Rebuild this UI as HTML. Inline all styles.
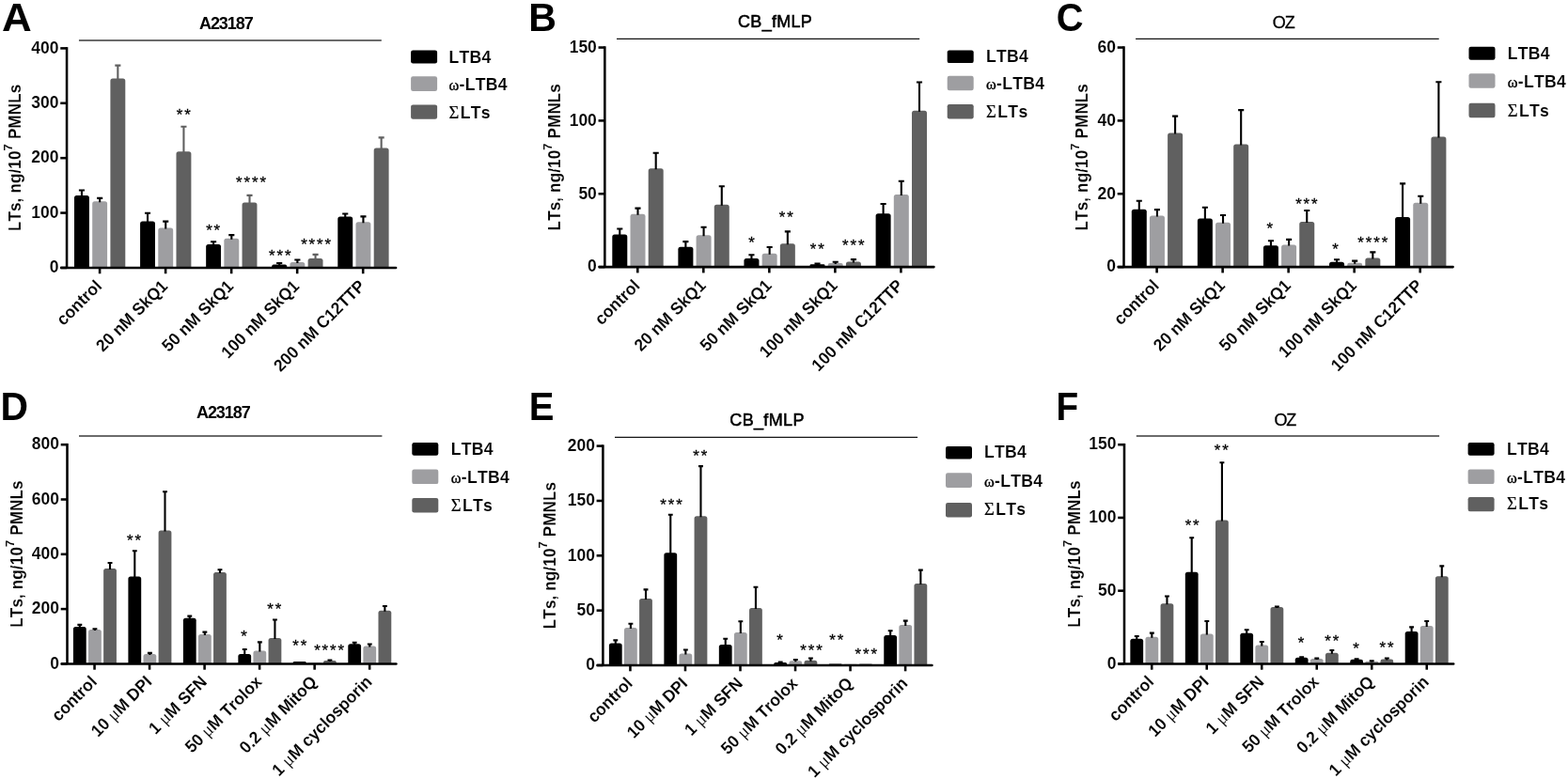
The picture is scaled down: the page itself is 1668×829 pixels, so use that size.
<!DOCTYPE html>
<html lang="en">
<head>
<meta charset="utf-8">
<title>Leukotriene synthesis figure</title>
<style>
html,body{margin:0;padding:0;background:#fff;}
body{width:1668px;height:829px;overflow:hidden;}
svg{display:block;}
svg text{font-family:"Liberation Sans",sans-serif;font-weight:bold;fill:#000;stroke:#fff;stroke-width:0.1px;font-kerning:none;}
svg text.n{font-weight:normal;stroke:none;}
svg text.s{stroke:#000;stroke-width:0.3px;}
svg text.L{stroke:none;}
svg text.t{stroke:#000;stroke-width:0.75px;}
svg .gb{font-family:"Liberation Serif",serif;font-weight:bold;}
svg .gn{font-family:"Liberation Serif",serif;font-weight:normal;stroke:#000;stroke-width:0.2px;}
svg .mu{font-family:"Liberation Serif",serif;font-weight:normal;}
</style>
</head>
<body>
<svg width="1668" height="829" viewBox="0 0 1668 829">
<rect width="1668" height="829" fill="#ffffff"/>
<g>
<text class="L" transform="translate(2.1 33) scale(1.02 1)" font-size="43.1">A</text>
<text class="L" transform="translate(212.05 31.2) scale(1 1.03)" font-size="18" textLength="57.6" lengthAdjust="spacing">A23187</text>
<line x1="83.95" y1="43" x2="405.8" y2="43" stroke="#3a3a3a" stroke-width="1.6"/>
<path d="M79 284.95 V210.4 Q79 207.9 81.5 207.9 H92.4 Q94.9 207.9 94.9 210.4 V284.95 Z" fill="#000000"/>
<path d="M86.95 208.9 V202.5 M83.9 202.5 H90" stroke="#000" stroke-width="2.1" fill="none"/>
<path d="M98.2 284.95 V216.8 Q98.2 214.3 100.7 214.3 H111.6 Q114.1 214.3 114.1 216.8 V284.95 Z" fill="#9e9ea1"/>
<path d="M106.15 215.3 V210.9 M103.1 210.9 H109.2" stroke="#000" stroke-width="2.1" fill="none"/>
<path d="M117.4 284.95 V86.1 Q117.4 83.6 119.9 83.6 H130.8 Q133.3 83.6 133.3 86.1 V284.95 Z" fill="#606060"/>
<path d="M125.35 84.6 V69.6 M122.3 69.6 H128.4" stroke="#606060" stroke-width="2.1" fill="none"/>
<path d="M149.08 284.95 V237.9 Q149.08 235.4 151.58 235.4 H162.48 Q164.98 235.4 164.98 237.9 V284.95 Z" fill="#000000"/>
<path d="M157.03 236.4 V226.7 M153.98 226.7 H160.08" stroke="#000" stroke-width="2.1" fill="none"/>
<path d="M168.28 284.95 V245 Q168.28 242.5 170.78 242.5 H181.68 Q184.18 242.5 184.18 245 V284.95 Z" fill="#9e9ea1"/>
<path d="M176.23 243.5 V235.6 M173.18 235.6 H179.28" stroke="#000" stroke-width="2.1" fill="none"/>
<path d="M187.48 284.95 V163.8 Q187.48 161.3 189.98 161.3 H200.88 Q203.38 161.3 203.38 163.8 V284.95 Z" fill="#606060"/>
<path d="M195.43 162.3 V134.7 M192.38 134.7 H198.48" stroke="#606060" stroke-width="2.1" fill="none"/>
<path d="M219.15 284.95 V262.4 Q219.15 259.9 221.65 259.9 H232.55 Q235.05 259.9 235.05 262.4 V284.95 Z" fill="#000000"/>
<path d="M227.1 260.9 V257.2 M224.05 257.2 H230.15" stroke="#000" stroke-width="2.1" fill="none"/>
<path d="M238.35 284.95 V256.2 Q238.35 253.7 240.85 253.7 H251.75 Q254.25 253.7 254.25 256.2 V284.95 Z" fill="#9e9ea1"/>
<path d="M246.3 254.7 V250.1 M243.25 250.1 H249.35" stroke="#000" stroke-width="2.1" fill="none"/>
<path d="M257.55 284.95 V218 Q257.55 215.5 260.05 215.5 H270.95 Q273.45 215.5 273.45 218 V284.95 Z" fill="#606060"/>
<path d="M265.5 216.5 V207.9 M262.45 207.9 H268.55" stroke="#606060" stroke-width="2.1" fill="none"/>
<path d="M289.23 284.95 V283.17 Q289.23 281.4 291 281.4 H303.35 Q305.12 281.4 305.12 283.17 V284.95 Z" fill="#000000"/>
<path d="M297.18 282.4 V280 M294.12 280 H300.23" stroke="#000" stroke-width="2.1" fill="none"/>
<path d="M308.43 284.95 V281.5 Q308.43 279 310.93 279 H321.82 Q324.32 279 324.32 281.5 V284.95 Z" fill="#9e9ea1"/>
<path d="M316.38 280 V276.5 M313.32 276.5 H319.43" stroke="#000" stroke-width="2.1" fill="none"/>
<path d="M327.62 284.95 V277.6 Q327.62 275.1 330.12 275.1 H341.02 Q343.52 275.1 343.52 277.6 V284.95 Z" fill="#606060"/>
<path d="M335.57 276.1 V270.9 M332.52 270.9 H338.62" stroke="#606060" stroke-width="2.1" fill="none"/>
<path d="M359.3 284.95 V232.9 Q359.3 230.4 361.8 230.4 H372.7 Q375.2 230.4 375.2 232.9 V284.95 Z" fill="#000000"/>
<path d="M367.25 231.4 V227.5 M364.2 227.5 H370.3" stroke="#000" stroke-width="2.1" fill="none"/>
<path d="M378.5 284.95 V238.8 Q378.5 236.3 381 236.3 H391.9 Q394.4 236.3 394.4 238.8 V284.95 Z" fill="#9e9ea1"/>
<path d="M386.45 237.3 V230.4 M383.4 230.4 H389.5" stroke="#000" stroke-width="2.1" fill="none"/>
<path d="M397.7 284.95 V159.9 Q397.7 157.4 400.2 157.4 H411.1 Q413.6 157.4 413.6 159.9 V284.95 Z" fill="#606060"/>
<path d="M405.65 158.4 V146.4 M402.6 146.4 H408.7" stroke="#606060" stroke-width="2.1" fill="none"/>
<path d="M71.05 50.12 V284.95" stroke="#000" stroke-width="2.55" fill="none"/>
<path d="M65.33 284.95 H421.12" stroke="#000" stroke-width="2.55" fill="none" stroke-linecap="round"/>
<line x1="64.25" y1="284.95" x2="71.05" y2="284.95" stroke="#000" stroke-width="2.55"/>
<text transform="translate(62.55 290.2) scale(1 1.04)" font-size="17.5" text-anchor="end">0</text>
<line x1="64.25" y1="226.56" x2="71.05" y2="226.56" stroke="#000" stroke-width="2.55"/>
<text transform="translate(62.55 231.81) scale(1 1.04)" font-size="17.5" text-anchor="end">100</text>
<line x1="64.25" y1="168.18" x2="71.05" y2="168.18" stroke="#000" stroke-width="2.55"/>
<text transform="translate(62.55 173.43) scale(1 1.04)" font-size="17.5" text-anchor="end">200</text>
<line x1="64.25" y1="109.79" x2="71.05" y2="109.79" stroke="#000" stroke-width="2.55"/>
<text transform="translate(62.55 115.04) scale(1 1.04)" font-size="17.5" text-anchor="end">300</text>
<line x1="64.25" y1="51.4" x2="71.05" y2="51.4" stroke="#000" stroke-width="2.55"/>
<text transform="translate(62.55 56.65) scale(1 1.04)" font-size="17.5" text-anchor="end">400</text>
<line x1="106.1" y1="284.95" x2="106.1" y2="291.25" stroke="#000" stroke-width="2.55"/>
<text transform="translate(109.3 305.55) rotate(-45) scale(1 1.04)" font-size="17.4" text-anchor="end">control</text>
<line x1="176.12" y1="284.95" x2="176.12" y2="291.25" stroke="#000" stroke-width="2.55"/>
<text transform="translate(179.32 305.55) rotate(-45) scale(1 1.04)" font-size="17.4" text-anchor="end">20 nM SkQ1</text>
<line x1="246.15" y1="284.95" x2="246.15" y2="291.25" stroke="#000" stroke-width="2.55"/>
<text transform="translate(249.34 305.55) rotate(-45) scale(1 1.04)" font-size="17.4" text-anchor="end">50 nM SkQ1</text>
<line x1="316.17" y1="284.95" x2="316.17" y2="291.25" stroke="#000" stroke-width="2.55"/>
<text transform="translate(319.37 305.55) rotate(-45) scale(1 1.04)" font-size="17.4" text-anchor="end">100 nM SkQ1</text>
<line x1="386.19" y1="284.95" x2="386.19" y2="291.25" stroke="#000" stroke-width="2.55"/>
<text transform="translate(389.39 305.55) rotate(-45) scale(1 1.04)" font-size="17.4" text-anchor="end">200 nM C12TTP</text>
<text transform="translate(22.3 167.9) rotate(-90) scale(1 1.04)" font-size="17" text-anchor="middle" letter-spacing="0.17">LTs, ng/10<tspan font-size="13" dy="-8.6">7</tspan><tspan dy="8.6"> PMNLs</tspan></text>
<text class="n s" x="187.83" y="127.86" font-size="16.8" letter-spacing="1.95">**</text>
<text class="n s" x="219.13" y="250.66" font-size="16.8" letter-spacing="1.95">**</text>
<text class="n s" x="251.03" y="200.46" font-size="16.8" letter-spacing="1.95">****</text>
<text class="n s" x="285.93" y="277.66" font-size="16.8" letter-spacing="1.95">***</text>
<text class="n s" x="320.13" y="265.86" font-size="16.8" letter-spacing="1.95">****</text>
<rect x="437.1" y="53.6" width="28" height="13.9" rx="2.2" fill="#000000"/>
<text transform="translate(477.4 66.7) scale(1 1.04)" font-size="17.6" letter-spacing="0.3">LTB4</text>
<rect x="437.1" y="81.3" width="28" height="15.6" rx="2.2" fill="#9e9ea1"/>
<text transform="translate(477.4 96) scale(1 1.04)" font-size="17.6" letter-spacing="0.3"><tspan class="gn" style="stroke-width:0.4px" font-size="16.4">ω</tspan><tspan dx="0">-LTB4</tspan></text>
<rect x="437.1" y="111.4" width="28" height="15.3" rx="2.2" fill="#606060"/>
<text transform="translate(477.4 125.8) scale(1 1.04)" font-size="17.6" letter-spacing="0.3"><tspan class="gn" font-size="18.6">Σ</tspan><tspan dx="1.2">LTs</tspan></text>
</g>
<g>
<text class="L" transform="translate(562.35 33.1) scale(0.95 1)" font-size="43.3">B</text>
<text class="n" style="stroke:#000;stroke-width:0.55px" transform="translate(785.05 29.1) scale(1 1.03)" font-size="18" textLength="78.8" lengthAdjust="spacing">CB_fMLP</text>
<line x1="656" y1="41.4" x2="978.2" y2="41.4" stroke="#141414" stroke-width="1.25"/>
<path d="M651.3 284.1 V252 Q651.3 249.5 653.8 249.5 H664.8 Q667.3 249.5 667.3 252 V284.1 Z" fill="#000000"/>
<path d="M659.3 250.5 V243.5 M656.25 243.5 H662.35" stroke="#000" stroke-width="2.1" fill="none"/>
<path d="M670.5 284.1 V230.3 Q670.5 227.8 673 227.8 H684 Q686.5 227.8 686.5 230.3 V284.1 Z" fill="#9e9ea1"/>
<path d="M678.5 228.8 V221.6 M675.45 221.6 H681.55" stroke="#000" stroke-width="2.1" fill="none"/>
<path d="M689.7 284.1 V181.7 Q689.7 179.2 692.2 179.2 H703.2 Q705.7 179.2 705.7 181.7 V284.1 Z" fill="#606060"/>
<path d="M697.7 180.2 V162.8 M694.65 162.8 H700.75" stroke="#000" stroke-width="2.1" fill="none"/>
<path d="M721.38 284.1 V265.3 Q721.38 262.8 723.88 262.8 H734.88 Q737.38 262.8 737.38 265.3 V284.1 Z" fill="#000000"/>
<path d="M729.38 263.8 V257.1 M726.33 257.1 H732.42" stroke="#000" stroke-width="2.1" fill="none"/>
<path d="M740.58 284.1 V252.8 Q740.58 250.3 743.08 250.3 H754.08 Q756.58 250.3 756.58 252.8 V284.1 Z" fill="#9e9ea1"/>
<path d="M748.58 251.3 V241.7 M745.53 241.7 H751.62" stroke="#000" stroke-width="2.1" fill="none"/>
<path d="M759.78 284.1 V220.2 Q759.78 217.7 762.28 217.7 H773.28 Q775.78 217.7 775.78 220.2 V284.1 Z" fill="#606060"/>
<path d="M767.78 218.7 V198.3 M764.73 198.3 H770.83" stroke="#000" stroke-width="2.1" fill="none"/>
<path d="M791.45 284.1 V277.6 Q791.45 275.1 793.95 275.1 H804.95 Q807.45 275.1 807.45 277.6 V284.1 Z" fill="#000000"/>
<path d="M799.45 276.1 V271.3 M796.4 271.3 H802.5" stroke="#000" stroke-width="2.1" fill="none"/>
<path d="M810.65 284.1 V272.2 Q810.65 269.7 813.15 269.7 H824.15 Q826.65 269.7 826.65 272.2 V284.1 Z" fill="#9e9ea1"/>
<path d="M818.65 270.7 V263 M815.6 263 H821.7" stroke="#000" stroke-width="2.1" fill="none"/>
<path d="M829.85 284.1 V261.8 Q829.85 259.3 832.35 259.3 H843.35 Q845.85 259.3 845.85 261.8 V284.1 Z" fill="#606060"/>
<path d="M837.85 260.3 V246.4 M834.8 246.4 H840.9" stroke="#000" stroke-width="2.1" fill="none"/>
<path d="M861.52 284.1 V282.7 Q861.52 281.3 862.92 281.3 H876.12 Q877.52 281.3 877.52 282.7 V284.1 Z" fill="#000000"/>
<path d="M869.52 282.3 V280.6 M866.48 280.6 H872.57" stroke="#000" stroke-width="2.1" fill="none"/>
<path d="M880.73 284.1 V282.1 Q880.73 280.1 882.73 280.1 H894.73 Q896.73 280.1 896.73 282.1 V284.1 Z" fill="#9e9ea1"/>
<path d="M888.73 281.1 V278.8 M885.68 278.8 H891.77" stroke="#000" stroke-width="2.1" fill="none"/>
<path d="M899.93 284.1 V280.9 Q899.93 278.4 902.43 278.4 H913.43 Q915.93 278.4 915.93 280.9 V284.1 Z" fill="#606060"/>
<path d="M907.93 279.4 V276.1 M904.88 276.1 H910.98" stroke="#000" stroke-width="2.1" fill="none"/>
<path d="M931.6 284.1 V229.8 Q931.6 227.3 934.1 227.3 H945.1 Q947.6 227.3 947.6 229.8 V284.1 Z" fill="#000000"/>
<path d="M939.6 228.3 V217 M936.55 217 H942.65" stroke="#000" stroke-width="2.1" fill="none"/>
<path d="M950.8 284.1 V209.6 Q950.8 207.1 953.3 207.1 H964.3 Q966.8 207.1 966.8 209.6 V284.1 Z" fill="#9e9ea1"/>
<path d="M958.8 208.1 V192.7 M955.75 192.7 H961.85" stroke="#000" stroke-width="2.1" fill="none"/>
<path d="M970 284.1 V120.2 Q970 117.7 972.5 117.7 H983.5 Q986 117.7 986 120.2 V284.1 Z" fill="#606060"/>
<path d="M978 118.7 V87.5 M974.95 87.5 H981.05" stroke="#000" stroke-width="2.1" fill="none"/>
<path d="M643.35 49.27 V284.1" stroke="#000" stroke-width="2.55" fill="none"/>
<path d="M637.62 284.1 H993.43" stroke="#000" stroke-width="2.55" fill="none" stroke-linecap="round"/>
<line x1="636.55" y1="284.1" x2="643.35" y2="284.1" stroke="#000" stroke-width="2.55"/>
<text transform="translate(634.85 289.35) scale(1 1.04)" font-size="17.5" text-anchor="end">0</text>
<line x1="636.55" y1="206.25" x2="643.35" y2="206.25" stroke="#000" stroke-width="2.55"/>
<text transform="translate(634.85 211.5) scale(1 1.04)" font-size="17.5" text-anchor="end">50</text>
<line x1="636.55" y1="128.4" x2="643.35" y2="128.4" stroke="#000" stroke-width="2.55"/>
<text transform="translate(634.85 133.65) scale(1 1.04)" font-size="17.5" text-anchor="end">100</text>
<line x1="636.55" y1="50.55" x2="643.35" y2="50.55" stroke="#000" stroke-width="2.55"/>
<text transform="translate(634.85 55.8) scale(1 1.04)" font-size="17.5" text-anchor="end">150</text>
<line x1="678.3" y1="284.1" x2="678.3" y2="290.4" stroke="#000" stroke-width="2.55"/>
<text transform="translate(681.7 305) rotate(-45) scale(1 1.04)" font-size="17.4" text-anchor="end">control</text>
<line x1="748.32" y1="284.1" x2="748.32" y2="290.4" stroke="#000" stroke-width="2.55"/>
<text transform="translate(751.72 305) rotate(-45) scale(1 1.04)" font-size="17.4" text-anchor="end">20 nM SkQ1</text>
<line x1="818.35" y1="284.1" x2="818.35" y2="290.4" stroke="#000" stroke-width="2.55"/>
<text transform="translate(821.75 305) rotate(-45) scale(1 1.04)" font-size="17.4" text-anchor="end">50 nM SkQ1</text>
<line x1="888.38" y1="284.1" x2="888.38" y2="290.4" stroke="#000" stroke-width="2.55"/>
<text transform="translate(891.77 305) rotate(-45) scale(1 1.04)" font-size="17.4" text-anchor="end">100 nM SkQ1</text>
<line x1="958.4" y1="284.1" x2="958.4" y2="290.4" stroke="#000" stroke-width="2.55"/>
<text transform="translate(961.8 305) rotate(-45) scale(1 1.04)" font-size="17.4" text-anchor="end">100 nM C12TTP</text>
<text transform="translate(595.5 167.2) rotate(-90) scale(1 1.04)" font-size="17" text-anchor="middle" letter-spacing="0.17">LTs, ng/10<tspan font-size="13" dy="-8.6">7</tspan><tspan dy="8.6"> PMNLs</tspan></text>
<text class="n s" x="796.23" y="264.26" font-size="16.8" letter-spacing="1.95">*</text>
<text class="n s" x="828.83" y="237.16" font-size="16.8" letter-spacing="1.95">**</text>
<text class="n s" x="861.73" y="270.76" font-size="16.8" letter-spacing="1.95">**</text>
<text class="n s" x="896.03" y="266.86" font-size="16.8" letter-spacing="1.95">***</text>
<rect x="1007.7" y="53.4" width="28" height="13.7" rx="2.2" fill="#000000"/>
<text transform="translate(1049 65.9) scale(1 1.04)" font-size="17.6" letter-spacing="0.3">LTB4</text>
<rect x="1007.7" y="80.7" width="28" height="15.6" rx="2.2" fill="#9e9ea1"/>
<text transform="translate(1049 95.1) scale(1 1.04)" font-size="17.6" letter-spacing="0.3"><tspan class="gn" style="stroke-width:0.4px" font-size="16.4">ω</tspan><tspan dx="0">-LTB4</tspan></text>
<rect x="1007.7" y="111" width="28" height="15.4" rx="2.2" fill="#606060"/>
<text transform="translate(1049 125) scale(1 1.04)" font-size="17.6" letter-spacing="0.3"><tspan class="gn" font-size="18.6">Σ</tspan><tspan dx="1.2">LTs</tspan></text>
</g>
<g>
<text class="L" transform="translate(1123.75 33.2) scale(0.93 1)" font-size="42.9">C</text>
<text class="n" style="stroke:#000;stroke-width:0.3px" transform="translate(1353.85 29.9) scale(1 1.03)" font-size="18" textLength="23.8" lengthAdjust="spacing">OZ</text>
<line x1="1208.1" y1="41.4" x2="1530.7" y2="41.4" stroke="#141414" stroke-width="1.25"/>
<path d="M1203.8 284.1 V225.3 Q1203.8 222.8 1206.3 222.8 H1217.3 Q1219.8 222.8 1219.8 225.3 V284.1 Z" fill="#000000"/>
<path d="M1211.8 223.8 V213.8 M1208.75 213.8 H1214.85" stroke="#000" stroke-width="2.1" fill="none"/>
<path d="M1222.95 284.1 V232 Q1222.95 229.5 1225.45 229.5 H1236.45 Q1238.95 229.5 1238.95 232 V284.1 Z" fill="#9e9ea1"/>
<path d="M1230.95 230.5 V223.1 M1227.9 223.1 H1234" stroke="#000" stroke-width="2.1" fill="none"/>
<path d="M1242.1 284.1 V143.9 Q1242.1 141.4 1244.6 141.4 H1255.6 Q1258.1 141.4 1258.1 143.9 V284.1 Z" fill="#606060"/>
<path d="M1250.1 142.4 V123.6 M1247.05 123.6 H1253.15" stroke="#000" stroke-width="2.1" fill="none"/>
<path d="M1273.88 284.1 V234.9 Q1273.88 232.4 1276.38 232.4 H1287.38 Q1289.88 232.4 1289.88 234.9 V284.1 Z" fill="#000000"/>
<path d="M1281.88 233.4 V220.7 M1278.83 220.7 H1284.92" stroke="#000" stroke-width="2.1" fill="none"/>
<path d="M1293.03 284.1 V239.3 Q1293.03 236.8 1295.53 236.8 H1306.53 Q1309.03 236.8 1309.03 239.3 V284.1 Z" fill="#9e9ea1"/>
<path d="M1301.03 237.8 V229 M1297.98 229 H1304.08" stroke="#000" stroke-width="2.1" fill="none"/>
<path d="M1312.18 284.1 V156 Q1312.18 153.5 1314.68 153.5 H1325.68 Q1328.18 153.5 1328.18 156 V284.1 Z" fill="#606060"/>
<path d="M1320.18 154.5 V117.1 M1317.13 117.1 H1323.23" stroke="#000" stroke-width="2.1" fill="none"/>
<path d="M1343.95 284.1 V263.8 Q1343.95 261.3 1346.45 261.3 H1357.45 Q1359.95 261.3 1359.95 263.8 V284.1 Z" fill="#000000"/>
<path d="M1351.95 262.3 V256.2 M1348.9 256.2 H1355" stroke="#000" stroke-width="2.1" fill="none"/>
<path d="M1363.1 284.1 V262.9 Q1363.1 260.4 1365.6 260.4 H1376.6 Q1379.1 260.4 1379.1 262.9 V284.1 Z" fill="#9e9ea1"/>
<path d="M1371.1 261.4 V254.9 M1368.05 254.9 H1374.15" stroke="#000" stroke-width="2.1" fill="none"/>
<path d="M1382.25 284.1 V238.5 Q1382.25 236 1384.75 236 H1395.75 Q1398.25 236 1398.25 238.5 V284.1 Z" fill="#606060"/>
<path d="M1390.25 237 V224 M1387.2 224 H1393.3" stroke="#000" stroke-width="2.1" fill="none"/>
<path d="M1414.03 284.1 V281.3 Q1414.03 278.8 1416.53 278.8 H1427.53 Q1430.03 278.8 1430.03 281.3 V284.1 Z" fill="#000000"/>
<path d="M1422.03 279.8 V276.2 M1418.98 276.2 H1425.08" stroke="#000" stroke-width="2.1" fill="none"/>
<path d="M1433.18 284.1 V281.95 Q1433.18 279.8 1435.33 279.8 H1447.03 Q1449.18 279.8 1449.18 281.95 V284.1 Z" fill="#9e9ea1"/>
<path d="M1441.18 280.8 V277.6 M1438.13 277.6 H1444.23" stroke="#000" stroke-width="2.1" fill="none"/>
<path d="M1452.33 284.1 V277.1 Q1452.33 274.6 1454.83 274.6 H1465.83 Q1468.33 274.6 1468.33 277.1 V284.1 Z" fill="#606060"/>
<path d="M1460.33 275.6 V268.4 M1457.28 268.4 H1463.38" stroke="#000" stroke-width="2.1" fill="none"/>
<path d="M1484.1 284.1 V233.4 Q1484.1 230.9 1486.6 230.9 H1497.6 Q1500.1 230.9 1500.1 233.4 V284.1 Z" fill="#000000"/>
<path d="M1492.1 231.9 V195.4 M1489.05 195.4 H1495.15" stroke="#000" stroke-width="2.1" fill="none"/>
<path d="M1503.25 284.1 V218.2 Q1503.25 215.7 1505.75 215.7 H1516.75 Q1519.25 215.7 1519.25 218.2 V284.1 Z" fill="#9e9ea1"/>
<path d="M1511.25 216.7 V208.8 M1508.2 208.8 H1514.3" stroke="#000" stroke-width="2.1" fill="none"/>
<path d="M1522.4 284.1 V147.9 Q1522.4 145.4 1524.9 145.4 H1535.9 Q1538.4 145.4 1538.4 147.9 V284.1 Z" fill="#606060"/>
<path d="M1530.4 146.4 V87.3 M1527.35 87.3 H1533.45" stroke="#000" stroke-width="2.1" fill="none"/>
<path d="M1195.5 49.27 V284.1" stroke="#000" stroke-width="2.55" fill="none"/>
<path d="M1189.78 284.1 H1545.62" stroke="#000" stroke-width="2.55" fill="none" stroke-linecap="round"/>
<line x1="1188.7" y1="284.1" x2="1195.5" y2="284.1" stroke="#000" stroke-width="2.55"/>
<text transform="translate(1187 289.35) scale(1 1.04)" font-size="17.5" text-anchor="end">0</text>
<line x1="1188.7" y1="206.25" x2="1195.5" y2="206.25" stroke="#000" stroke-width="2.55"/>
<text transform="translate(1187 211.5) scale(1 1.04)" font-size="17.5" text-anchor="end">20</text>
<line x1="1188.7" y1="128.4" x2="1195.5" y2="128.4" stroke="#000" stroke-width="2.55"/>
<text transform="translate(1187 133.65) scale(1 1.04)" font-size="17.5" text-anchor="end">40</text>
<line x1="1188.7" y1="50.55" x2="1195.5" y2="50.55" stroke="#000" stroke-width="2.55"/>
<text transform="translate(1187 55.8) scale(1 1.04)" font-size="17.5" text-anchor="end">60</text>
<line x1="1230.6" y1="284.1" x2="1230.6" y2="290.4" stroke="#000" stroke-width="2.55"/>
<text transform="translate(1234 305) rotate(-45) scale(1 1.04)" font-size="17.4" text-anchor="end">control</text>
<line x1="1300.62" y1="284.1" x2="1300.62" y2="290.4" stroke="#000" stroke-width="2.55"/>
<text transform="translate(1304.03 305) rotate(-45) scale(1 1.04)" font-size="17.4" text-anchor="end">20 nM SkQ1</text>
<line x1="1370.65" y1="284.1" x2="1370.65" y2="290.4" stroke="#000" stroke-width="2.55"/>
<text transform="translate(1374.05 305) rotate(-45) scale(1 1.04)" font-size="17.4" text-anchor="end">50 nM SkQ1</text>
<line x1="1440.67" y1="284.1" x2="1440.67" y2="290.4" stroke="#000" stroke-width="2.55"/>
<text transform="translate(1444.08 305) rotate(-45) scale(1 1.04)" font-size="17.4" text-anchor="end">100 nM SkQ1</text>
<line x1="1510.7" y1="284.1" x2="1510.7" y2="290.4" stroke="#000" stroke-width="2.55"/>
<text transform="translate(1514.1 305) rotate(-45) scale(1 1.04)" font-size="17.4" text-anchor="end">100 nM C12TTP</text>
<text transform="translate(1157.3 167.2) rotate(-90) scale(1 1.04)" font-size="17" text-anchor="middle" letter-spacing="0.17">LTs, ng/10<tspan font-size="13" dy="-8.6">7</tspan><tspan dy="8.6"> PMNLs</tspan></text>
<text class="n s" x="1347.43" y="249.16" font-size="16.8" letter-spacing="1.95">*</text>
<text class="n s" x="1378.13" y="222.76" font-size="16.8" letter-spacing="1.95">***</text>
<text class="n s" x="1417.33" y="271.46" font-size="16.8" letter-spacing="1.95">*</text>
<text class="n s" x="1444.33" y="263.86" font-size="16.8" letter-spacing="1.95">****</text>
<rect x="1562.5" y="49.8" width="28" height="13.9" rx="2.2" fill="#000000"/>
<text transform="translate(1603.7 62.5) scale(1 1.04)" font-size="17.6" letter-spacing="0.3">LTB4</text>
<rect x="1562.5" y="78.2" width="28" height="15.6" rx="2.2" fill="#9e9ea1"/>
<text transform="translate(1603.7 92.6) scale(1 1.04)" font-size="17.6" letter-spacing="0.3"><tspan class="gn" style="stroke-width:0.4px" font-size="16.4">ω</tspan><tspan dx="0">-LTB4</tspan></text>
<rect x="1562.5" y="109.8" width="28" height="15.5" rx="2.2" fill="#606060"/>
<text transform="translate(1603.7 124.2) scale(1 1.04)" font-size="17.6" letter-spacing="0.3"><tspan class="gn" font-size="18.6">Σ</tspan><tspan dx="1.2">LTs</tspan></text>
</g>
<g>
<text class="L" transform="translate(0.5 447) scale(0.96 1)" font-size="42.6">D</text>
<text class="L" transform="translate(209 444.9) scale(1 1.03)" font-size="18" textLength="57.7" lengthAdjust="spacing">A23187</text>
<line x1="84" y1="464" x2="406.4" y2="464" stroke="#3a3a3a" stroke-width="1.6"/>
<path d="M77.93 706.4 V669.5 Q77.93 667 80.43 667 H89.23 Q91.73 667 91.73 669.5 V706.4 Z" fill="#000000"/>
<path d="M84.83 668 V664.9 M82.38 664.9 H87.28" stroke="#000" stroke-width="2.1" fill="none"/>
<path d="M94.03 706.4 V672.6 Q94.03 670.1 96.53 670.1 H105.33 Q107.83 670.1 107.83 672.6 V706.4 Z" fill="#9e9ea1"/>
<path d="M100.93 671.1 V669.3 M98.48 669.3 H103.38" stroke="#000" stroke-width="2.1" fill="none"/>
<path d="M110.13 706.4 V607.5 Q110.13 605 112.63 605 H121.43 Q123.93 605 123.93 607.5 V706.4 Z" fill="#606060"/>
<path d="M117.03 606 V599 M114.58 599 H119.48" stroke="#000" stroke-width="2.1" fill="none"/>
<path d="M136.4 706.4 V616 Q136.4 613.5 138.9 613.5 H147.7 Q150.2 613.5 150.2 616 V706.4 Z" fill="#000000"/>
<path d="M143.3 614.5 V586.3 M140.85 586.3 H145.75" stroke="#000" stroke-width="2.1" fill="none"/>
<path d="M152.5 706.4 V698.4 Q152.5 695.9 155 695.9 H163.8 Q166.3 695.9 166.3 698.4 V706.4 Z" fill="#9e9ea1"/>
<path d="M159.4 696.9 V694.9 M156.95 694.9 H161.85" stroke="#000" stroke-width="2.1" fill="none"/>
<path d="M168.6 706.4 V567 Q168.6 564.5 171.1 564.5 H179.9 Q182.4 564.5 182.4 567 V706.4 Z" fill="#606060"/>
<path d="M175.5 565.5 V523.2 M173.05 523.2 H177.95" stroke="#000" stroke-width="2.1" fill="none"/>
<path d="M194.87 706.4 V660.2 Q194.87 657.7 197.37 657.7 H206.17 Q208.67 657.7 208.67 660.2 V706.4 Z" fill="#000000"/>
<path d="M201.77 658.7 V655.6 M199.32 655.6 H204.22" stroke="#000" stroke-width="2.1" fill="none"/>
<path d="M210.97 706.4 V677.6 Q210.97 675.1 213.47 675.1 H222.27 Q224.77 675.1 224.77 677.6 V706.4 Z" fill="#9e9ea1"/>
<path d="M217.87 676.1 V672.6 M215.42 672.6 H220.32" stroke="#000" stroke-width="2.1" fill="none"/>
<path d="M227.07 706.4 V611.4 Q227.07 608.9 229.57 608.9 H238.37 Q240.87 608.9 240.87 611.4 V706.4 Z" fill="#606060"/>
<path d="M233.97 609.9 V606.2 M231.52 606.2 H236.42" stroke="#000" stroke-width="2.1" fill="none"/>
<path d="M253.34 706.4 V698.4 Q253.34 695.9 255.84 695.9 H264.64 Q267.14 695.9 267.14 698.4 V706.4 Z" fill="#000000"/>
<path d="M260.24 696.9 V691 M257.79 691 H262.69" stroke="#000" stroke-width="2.1" fill="none"/>
<path d="M269.44 706.4 V695 Q269.44 692.5 271.94 692.5 H280.74 Q283.24 692.5 283.24 695 V706.4 Z" fill="#9e9ea1"/>
<path d="M276.34 693.5 V683.4 M273.89 683.4 H278.79" stroke="#000" stroke-width="2.1" fill="none"/>
<path d="M285.54 706.4 V681.5 Q285.54 679 288.04 679 H296.84 Q299.34 679 299.34 681.5 V706.4 Z" fill="#606060"/>
<path d="M292.44 680 V659.5 M289.99 659.5 H294.89" stroke="#000" stroke-width="2.1" fill="none"/>
<path d="M311.81 706.4 V705.25 Q311.81 704.1 312.96 704.1 H324.46 Q325.61 704.1 325.61 705.25 V706.4 Z" fill="#000000"/>
<path d="M327.91 706.4 V705.8 Q327.91 705.2 328.51 705.2 H341.11 Q341.71 705.2 341.71 705.8 V706.4 Z" fill="#9e9ea1"/>
<path d="M344.01 706.4 V704.65 Q344.01 702.9 345.76 702.9 H356.06 Q357.81 702.9 357.81 704.65 V706.4 Z" fill="#606060"/>
<path d="M350.91 703.9 V702.5 M348.46 702.5 H353.36" stroke="#000" stroke-width="2.1" fill="none"/>
<path d="M370.28 706.4 V687.8 Q370.28 685.3 372.78 685.3 H381.58 Q384.08 685.3 384.08 687.8 V706.4 Z" fill="#000000"/>
<path d="M377.18 686.3 V683.8 M374.73 683.8 H379.63" stroke="#000" stroke-width="2.1" fill="none"/>
<path d="M386.38 706.4 V690 Q386.38 687.5 388.88 687.5 H397.68 Q400.18 687.5 400.18 690 V706.4 Z" fill="#9e9ea1"/>
<path d="M393.28 688.5 V685.5 M390.83 685.5 H395.73" stroke="#000" stroke-width="2.1" fill="none"/>
<path d="M402.48 706.4 V652.3 Q402.48 649.8 404.98 649.8 H413.78 Q416.28 649.8 416.28 652.3 V706.4 Z" fill="#606060"/>
<path d="M409.38 650.8 V645 M406.93 645 H411.83" stroke="#000" stroke-width="2.1" fill="none"/>
<path d="M71.5 471.93 V706.4" stroke="#000" stroke-width="2.55" fill="none"/>
<path d="M65.78 706.4 H421.43" stroke="#000" stroke-width="2.55" fill="none" stroke-linecap="round"/>
<line x1="64.7" y1="706.4" x2="71.5" y2="706.4" stroke="#000" stroke-width="2.55"/>
<text transform="translate(63 711.65) scale(1 1.04)" font-size="17.5" text-anchor="end">0</text>
<line x1="64.7" y1="648.1" x2="71.5" y2="648.1" stroke="#000" stroke-width="2.55"/>
<text transform="translate(63 653.35) scale(1 1.04)" font-size="17.5" text-anchor="end">200</text>
<line x1="64.7" y1="589.8" x2="71.5" y2="589.8" stroke="#000" stroke-width="2.55"/>
<text transform="translate(63 595.05) scale(1 1.04)" font-size="17.5" text-anchor="end">400</text>
<line x1="64.7" y1="531.5" x2="71.5" y2="531.5" stroke="#000" stroke-width="2.55"/>
<text transform="translate(63 536.75) scale(1 1.04)" font-size="17.5" text-anchor="end">600</text>
<line x1="64.7" y1="473.2" x2="71.5" y2="473.2" stroke="#000" stroke-width="2.55"/>
<text transform="translate(63 478.45) scale(1 1.04)" font-size="17.5" text-anchor="end">800</text>
<line x1="100.55" y1="706.4" x2="100.55" y2="712.7" stroke="#000" stroke-width="2.55"/>
<text transform="translate(104.05 726.7) rotate(-45) scale(1 1.04)" font-size="17.4" text-anchor="end">control</text>
<line x1="159.08" y1="706.4" x2="159.08" y2="712.7" stroke="#000" stroke-width="2.55"/>
<text transform="translate(162.58 726.7) rotate(-45) scale(1 1.04)" font-size="17.4" text-anchor="end">10 <tspan class="mu" font-size="18.5">μ</tspan>M DPI</text>
<line x1="217.6" y1="706.4" x2="217.6" y2="712.7" stroke="#000" stroke-width="2.55"/>
<text transform="translate(221.1 726.7) rotate(-45) scale(1 1.04)" font-size="17.4" text-anchor="end">1 <tspan class="mu" font-size="18.5">μ</tspan>M SFN</text>
<line x1="276.13" y1="706.4" x2="276.13" y2="712.7" stroke="#000" stroke-width="2.55"/>
<text transform="translate(279.63 726.7) rotate(-45) scale(1 1.04)" font-size="17.4" text-anchor="end">50 <tspan class="mu" font-size="18.5">μ</tspan>M Trolox</text>
<line x1="334.65" y1="706.4" x2="334.65" y2="712.7" stroke="#000" stroke-width="2.55"/>
<text transform="translate(338.15 726.7) rotate(-45) scale(1 1.04)" font-size="17.4" text-anchor="end">0.2 <tspan class="mu" font-size="18.5">μ</tspan>M MitoQ</text>
<line x1="393.18" y1="706.4" x2="393.18" y2="712.7" stroke="#000" stroke-width="2.55"/>
<text transform="translate(396.68 726.7) rotate(-45) scale(1 1.04)" font-size="17.4" text-anchor="end">1 <tspan class="mu" font-size="18.5">μ</tspan>M cyclosporin</text>
<text transform="translate(23.6 589.5) rotate(-90) scale(1 1.04)" font-size="17" text-anchor="middle" letter-spacing="0.17">LTs, ng/10<tspan font-size="13" dy="-8.6">7</tspan><tspan dy="8.6"> PMNLs</tspan></text>
<text class="n s" x="134.93" y="581.36" font-size="16.8" letter-spacing="1.95">**</text>
<text class="n s" x="256.33" y="682.96" font-size="16.8" letter-spacing="1.95">*</text>
<text class="n s" x="284.33" y="654.16" font-size="16.8" letter-spacing="1.95">**</text>
<text class="n s" x="311.33" y="692.96" font-size="16.8" letter-spacing="1.95">**</text>
<text class="n s" x="334.13" y="697.86" font-size="16.8" letter-spacing="1.95">****</text>
<rect x="438.3" y="471.1" width="28" height="13.6" rx="2.2" fill="#000000"/>
<text transform="translate(479.7 483.8) scale(1 1.04)" font-size="17.6" letter-spacing="0.3">LTB4</text>
<rect x="438.3" y="499.5" width="28" height="15.6" rx="2.2" fill="#9e9ea1"/>
<text transform="translate(479.7 513.5) scale(1 1.04)" font-size="17.6" letter-spacing="0.3"><tspan class="gn" style="stroke-width:0.4px" font-size="16.4">ω</tspan><tspan dx="0">-LTB4</tspan></text>
<rect x="438.3" y="529.9" width="28" height="15.6" rx="2.2" fill="#606060"/>
<text transform="translate(479.7 543.8) scale(1 1.04)" font-size="17.6" letter-spacing="0.3"><tspan class="gn" font-size="18.6">Σ</tspan><tspan dx="1.2">LTs</tspan></text>
</g>
<g>
<text class="L" transform="translate(562.65 447) scale(0.94 1)" font-size="42.6">E</text>
<text class="n" style="stroke:#000;stroke-width:0.55px" transform="translate(776.3 452.9) scale(1 1.03)" font-size="18" textLength="79.1" lengthAdjust="spacing">CB_fMLP</text>
<line x1="654" y1="465.4" x2="976.1" y2="465.4" stroke="#141414" stroke-width="1.25"/>
<path d="M647.9 708 V686.9 Q647.9 684.4 650.4 684.4 H659.2 Q661.7 684.4 661.7 686.9 V708 Z" fill="#000000"/>
<path d="M654.8 685.4 V681.4 M652.35 681.4 H657.25" stroke="#000" stroke-width="2.1" fill="none"/>
<path d="M664 708 V670.6 Q664 668.1 666.5 668.1 H675.3 Q677.8 668.1 677.8 670.6 V708 Z" fill="#9e9ea1"/>
<path d="M670.9 669.1 V663.7 M668.45 663.7 H673.35" stroke="#000" stroke-width="2.1" fill="none"/>
<path d="M680.1 708 V639.6 Q680.1 637.1 682.6 637.1 H691.4 Q693.9 637.1 693.9 639.6 V708 Z" fill="#606060"/>
<path d="M687 638.1 V627.4 M684.55 627.4 H689.45" stroke="#000" stroke-width="2.1" fill="none"/>
<path d="M706.37 708 V590.7 Q706.37 588.2 708.87 588.2 H717.67 Q720.17 588.2 720.17 590.7 V708 Z" fill="#000000"/>
<path d="M713.27 589.2 V547.7 M710.82 547.7 H715.72" stroke="#000" stroke-width="2.1" fill="none"/>
<path d="M722.47 708 V697.9 Q722.47 695.4 724.97 695.4 H733.77 Q736.27 695.4 736.27 697.9 V708 Z" fill="#9e9ea1"/>
<path d="M729.37 696.4 V691.5 M726.92 691.5 H731.82" stroke="#000" stroke-width="2.1" fill="none"/>
<path d="M738.57 708 V551.8 Q738.57 549.3 741.07 549.3 H749.87 Q752.37 549.3 752.37 551.8 V708 Z" fill="#606060"/>
<path d="M745.47 550.3 V496.1 M743.02 496.1 H747.92" stroke="#000" stroke-width="2.1" fill="none"/>
<path d="M764.84 708 V688.6 Q764.84 686.1 767.34 686.1 H776.14 Q778.64 686.1 778.64 688.6 V708 Z" fill="#000000"/>
<path d="M771.74 687.1 V679.7 M769.29 679.7 H774.19" stroke="#000" stroke-width="2.1" fill="none"/>
<path d="M780.94 708 V675.6 Q780.94 673.1 783.44 673.1 H792.24 Q794.74 673.1 794.74 675.6 V708 Z" fill="#9e9ea1"/>
<path d="M787.84 674.1 V661.2 M785.39 661.2 H790.29" stroke="#000" stroke-width="2.1" fill="none"/>
<path d="M797.04 708 V649.4 Q797.04 646.9 799.54 646.9 H808.34 Q810.84 646.9 810.84 649.4 V708 Z" fill="#606060"/>
<path d="M803.94 647.9 V624.8 M801.49 624.8 H806.39" stroke="#000" stroke-width="2.1" fill="none"/>
<path d="M823.31 708 V706.45 Q823.31 704.9 824.86 704.9 H835.56 Q837.11 704.9 837.11 706.45 V708 Z" fill="#000000"/>
<path d="M830.21 705.9 V704.5 M827.76 704.5 H832.66" stroke="#000" stroke-width="2.1" fill="none"/>
<path d="M839.41 708 V705.6 Q839.41 703.2 841.81 703.2 H850.81 Q853.21 703.2 853.21 705.6 V708 Z" fill="#9e9ea1"/>
<path d="M846.31 704.2 V702 M843.86 702 H848.76" stroke="#000" stroke-width="2.1" fill="none"/>
<path d="M855.51 708 V705.2 Q855.51 702.7 858.01 702.7 H866.81 Q869.31 702.7 869.31 705.2 V708 Z" fill="#606060"/>
<path d="M862.41 703.7 V700.5 M859.96 700.5 H864.86" stroke="#000" stroke-width="2.1" fill="none"/>
<path d="M881.78 708 V707.3 Q881.78 706.6 882.48 706.6 H894.88 Q895.58 706.6 895.58 707.3 V708 Z" fill="#000000"/>
<path d="M897.88 708 V707.35 Q897.88 706.7 898.53 706.7 H911.03 Q911.68 706.7 911.68 707.35 V708 Z" fill="#9e9ea1"/>
<path d="M913.98 708 V707.3 Q913.98 706.6 914.68 706.6 H927.08 Q927.78 706.6 927.78 707.3 V708 Z" fill="#606060"/>
<path d="M940.25 708 V678.5 Q940.25 676 942.75 676 H951.55 Q954.05 676 954.05 678.5 V708 Z" fill="#000000"/>
<path d="M947.15 677 V671.3 M944.7 671.3 H949.6" stroke="#000" stroke-width="2.1" fill="none"/>
<path d="M956.35 708 V667.5 Q956.35 665 958.85 665 H967.65 Q970.15 665 970.15 667.5 V708 Z" fill="#9e9ea1"/>
<path d="M963.25 666 V660.6 M960.8 660.6 H965.7" stroke="#000" stroke-width="2.1" fill="none"/>
<path d="M972.45 708 V623.6 Q972.45 621.1 974.95 621.1 H983.75 Q986.25 621.1 986.25 623.6 V708 Z" fill="#606060"/>
<path d="M979.35 622.1 V606.6 M976.9 606.6 H981.8" stroke="#000" stroke-width="2.1" fill="none"/>
<path d="M641.4 473.33 V708" stroke="#000" stroke-width="2.55" fill="none"/>
<path d="M635.67 708 H991.43" stroke="#000" stroke-width="2.55" fill="none" stroke-linecap="round"/>
<line x1="634.6" y1="708" x2="641.4" y2="708" stroke="#000" stroke-width="2.55"/>
<text transform="translate(632.9 713.25) scale(1 1.04)" font-size="17.5" text-anchor="end">0</text>
<line x1="634.6" y1="649.65" x2="641.4" y2="649.65" stroke="#000" stroke-width="2.55"/>
<text transform="translate(632.9 654.9) scale(1 1.04)" font-size="17.5" text-anchor="end">50</text>
<line x1="634.6" y1="591.3" x2="641.4" y2="591.3" stroke="#000" stroke-width="2.55"/>
<text transform="translate(632.9 596.55) scale(1 1.04)" font-size="17.5" text-anchor="end">100</text>
<line x1="634.6" y1="532.95" x2="641.4" y2="532.95" stroke="#000" stroke-width="2.55"/>
<text transform="translate(632.9 538.2) scale(1 1.04)" font-size="17.5" text-anchor="end">150</text>
<line x1="634.6" y1="474.6" x2="641.4" y2="474.6" stroke="#000" stroke-width="2.55"/>
<text transform="translate(632.9 479.85) scale(1 1.04)" font-size="17.5" text-anchor="end">200</text>
<line x1="670.46" y1="708" x2="670.46" y2="714.3" stroke="#000" stroke-width="2.55"/>
<text transform="translate(673.96 728.3) rotate(-45) scale(1 1.04)" font-size="17.4" text-anchor="end">control</text>
<line x1="728.99" y1="708" x2="728.99" y2="714.3" stroke="#000" stroke-width="2.55"/>
<text transform="translate(732.49 728.3) rotate(-45) scale(1 1.04)" font-size="17.4" text-anchor="end">10 <tspan class="mu" font-size="18.5">μ</tspan>M DPI</text>
<line x1="787.52" y1="708" x2="787.52" y2="714.3" stroke="#000" stroke-width="2.55"/>
<text transform="translate(791.02 728.3) rotate(-45) scale(1 1.04)" font-size="17.4" text-anchor="end">1 <tspan class="mu" font-size="18.5">μ</tspan>M SFN</text>
<line x1="846.04" y1="708" x2="846.04" y2="714.3" stroke="#000" stroke-width="2.55"/>
<text transform="translate(849.54 728.3) rotate(-45) scale(1 1.04)" font-size="17.4" text-anchor="end">50 <tspan class="mu" font-size="18.5">μ</tspan>M Trolox</text>
<line x1="904.57" y1="708" x2="904.57" y2="714.3" stroke="#000" stroke-width="2.55"/>
<text transform="translate(908.07 728.3) rotate(-45) scale(1 1.04)" font-size="17.4" text-anchor="end">0.2 <tspan class="mu" font-size="18.5">μ</tspan>M MitoQ</text>
<line x1="963.1" y1="708" x2="963.1" y2="714.3" stroke="#000" stroke-width="2.55"/>
<text transform="translate(966.6 728.3) rotate(-45) scale(1 1.04)" font-size="17.4" text-anchor="end">1 <tspan class="mu" font-size="18.5">μ</tspan>M cyclosporin</text>
<text transform="translate(591.3 591) rotate(-90) scale(1 1.04)" font-size="17" text-anchor="middle" letter-spacing="0.17">LTs, ng/10<tspan font-size="13" dy="-8.6">7</tspan><tspan dy="8.6"> PMNLs</tspan></text>
<text class="n s" x="702.23" y="542.86" font-size="16.8" letter-spacing="1.95">***</text>
<text class="n s" x="737.23" y="491.36" font-size="16.8" letter-spacing="1.95">**</text>
<text class="n s" x="826.23" y="687.36" font-size="16.8" letter-spacing="1.95">*</text>
<text class="n s" x="851.33" y="697.56" font-size="16.8" letter-spacing="1.95">***</text>
<text class="n s" x="882.33" y="687.06" font-size="16.8" letter-spacing="1.95">**</text>
<text class="n s" x="909.53" y="701.56" font-size="16.8" letter-spacing="1.95">***</text>
<rect x="1006" y="475" width="28" height="13.5" rx="2.2" fill="#000000"/>
<text transform="translate(1046.9 487.4) scale(1 1.04)" font-size="17.6" letter-spacing="0.3">LTB4</text>
<rect x="1006" y="503.2" width="28" height="15.8" rx="2.2" fill="#9e9ea1"/>
<text transform="translate(1046.9 517.6) scale(1 1.04)" font-size="17.6" letter-spacing="0.3"><tspan class="gn" style="stroke-width:0.4px" font-size="16.4">ω</tspan><tspan dx="0">-LTB4</tspan></text>
<rect x="1006" y="535" width="28" height="15.4" rx="2.2" fill="#606060"/>
<text transform="translate(1046.9 547.7) scale(1 1.04)" font-size="17.6" letter-spacing="0.3"><tspan class="gn" font-size="18.6">Σ</tspan><tspan dx="1.2">LTs</tspan></text>
</g>
<g>
<text class="L" transform="translate(1123.6 447) scale(0.91 1)" font-size="42.6">F</text>
<text class="n" style="stroke:#000;stroke-width:0.3px" transform="translate(1355.45 453.2) scale(1 1.03)" font-size="18" textLength="23.8" lengthAdjust="spacing">OZ</text>
<line x1="1208.8" y1="464" x2="1531.1" y2="464" stroke="#3a3a3a" stroke-width="1.6"/>
<path d="M1202.35 706.4 V682.2 Q1202.35 679.7 1204.85 679.7 H1213.65 Q1216.15 679.7 1216.15 682.2 V706.4 Z" fill="#000000"/>
<path d="M1209.25 680.7 V677 M1206.8 677 H1211.7" stroke="#000" stroke-width="2.1" fill="none"/>
<path d="M1218.45 706.4 V680.2 Q1218.45 677.7 1220.95 677.7 H1229.75 Q1232.25 677.7 1232.25 680.2 V706.4 Z" fill="#9e9ea1"/>
<path d="M1225.35 678.7 V673.6 M1222.9 673.6 H1227.8" stroke="#000" stroke-width="2.1" fill="none"/>
<path d="M1234.55 706.4 V644.7 Q1234.55 642.2 1237.05 642.2 H1245.85 Q1248.35 642.2 1248.35 644.7 V706.4 Z" fill="#606060"/>
<path d="M1241.45 643.2 V634.5 M1239 634.5 H1243.9" stroke="#000" stroke-width="2.1" fill="none"/>
<path d="M1260.82 706.4 V611.3 Q1260.82 608.8 1263.32 608.8 H1272.12 Q1274.62 608.8 1274.62 611.3 V706.4 Z" fill="#000000"/>
<path d="M1267.72 609.8 V572.3 M1265.27 572.3 H1270.17" stroke="#000" stroke-width="2.1" fill="none"/>
<path d="M1276.92 706.4 V677.1 Q1276.92 674.6 1279.42 674.6 H1288.22 Q1290.72 674.6 1290.72 677.1 V706.4 Z" fill="#9e9ea1"/>
<path d="M1283.82 675.6 V661 M1281.37 661 H1286.27" stroke="#000" stroke-width="2.1" fill="none"/>
<path d="M1293.02 706.4 V556 Q1293.02 553.5 1295.52 553.5 H1304.32 Q1306.82 553.5 1306.82 556 V706.4 Z" fill="#606060"/>
<path d="M1299.92 554.5 V492.3 M1297.47 492.3 H1302.37" stroke="#000" stroke-width="2.1" fill="none"/>
<path d="M1319.29 706.4 V676.3 Q1319.29 673.8 1321.79 673.8 H1330.59 Q1333.09 673.8 1333.09 676.3 V706.4 Z" fill="#000000"/>
<path d="M1326.19 674.8 V670.3 M1323.74 670.3 H1328.64" stroke="#000" stroke-width="2.1" fill="none"/>
<path d="M1335.39 706.4 V689 Q1335.39 686.5 1337.89 686.5 H1346.69 Q1349.19 686.5 1349.19 689 V706.4 Z" fill="#9e9ea1"/>
<path d="M1342.29 687.5 V683 M1339.84 683 H1344.74" stroke="#000" stroke-width="2.1" fill="none"/>
<path d="M1351.49 706.4 V648.4 Q1351.49 645.9 1353.99 645.9 H1362.79 Q1365.29 645.9 1365.29 648.4 V706.4 Z" fill="#606060"/>
<path d="M1358.39 646.9 V645.5 M1355.94 645.5 H1360.84" stroke="#000" stroke-width="2.1" fill="none"/>
<path d="M1377.76 706.4 V702.3 Q1377.76 699.8 1380.26 699.8 H1389.06 Q1391.56 699.8 1391.56 702.3 V706.4 Z" fill="#000000"/>
<path d="M1384.66 700.8 V699.4 M1382.21 699.4 H1387.11" stroke="#000" stroke-width="2.1" fill="none"/>
<path d="M1393.86 706.4 V703.5 Q1393.86 701 1396.36 701 H1405.16 Q1407.66 701 1407.66 703.5 V706.4 Z" fill="#9e9ea1"/>
<path d="M1400.76 702 V700.6 M1398.31 700.6 H1403.21" stroke="#000" stroke-width="2.1" fill="none"/>
<path d="M1409.96 706.4 V697.2 Q1409.96 694.7 1412.46 694.7 H1421.26 Q1423.76 694.7 1423.76 697.2 V706.4 Z" fill="#606060"/>
<path d="M1416.86 695.7 V692 M1414.41 692 H1419.31" stroke="#000" stroke-width="2.1" fill="none"/>
<path d="M1436.23 706.4 V704.1 Q1436.23 701.8 1438.53 701.8 H1447.73 Q1450.03 701.8 1450.03 704.1 V706.4 Z" fill="#000000"/>
<path d="M1443.13 702.8 V701.4 M1440.68 701.4 H1445.58" stroke="#000" stroke-width="2.1" fill="none"/>
<path d="M1452.33 706.4 V705.1 Q1452.33 703.8 1453.63 703.8 H1464.83 Q1466.13 703.8 1466.13 705.1 V706.4 Z" fill="#9e9ea1"/>
<path d="M1459.23 704.8 V703.4 M1456.78 703.4 H1461.68" stroke="#000" stroke-width="2.1" fill="none"/>
<path d="M1468.43 706.4 V703.95 Q1468.43 701.5 1470.88 701.5 H1479.78 Q1482.23 701.5 1482.23 703.95 V706.4 Z" fill="#606060"/>
<path d="M1475.33 702.5 V700.5 M1472.88 700.5 H1477.78" stroke="#000" stroke-width="2.1" fill="none"/>
<path d="M1494.7 706.4 V674.6 Q1494.7 672.1 1497.2 672.1 H1506 Q1508.5 672.1 1508.5 674.6 V706.4 Z" fill="#000000"/>
<path d="M1501.6 673.1 V667.4 M1499.15 667.4 H1504.05" stroke="#000" stroke-width="2.1" fill="none"/>
<path d="M1510.8 706.4 V668.4 Q1510.8 665.9 1513.3 665.9 H1522.1 Q1524.6 665.9 1524.6 668.4 V706.4 Z" fill="#9e9ea1"/>
<path d="M1517.7 666.9 V661 M1515.25 661 H1520.15" stroke="#000" stroke-width="2.1" fill="none"/>
<path d="M1526.9 706.4 V615.7 Q1526.9 613.2 1529.4 613.2 H1538.2 Q1540.7 613.2 1540.7 615.7 V706.4 Z" fill="#606060"/>
<path d="M1533.8 614.2 V602.4 M1531.35 602.4 H1536.25" stroke="#000" stroke-width="2.1" fill="none"/>
<path d="M1196 471.93 V706.4" stroke="#000" stroke-width="2.55" fill="none"/>
<path d="M1190.28 706.4 H1546.22" stroke="#000" stroke-width="2.55" fill="none" stroke-linecap="round"/>
<line x1="1189.2" y1="706.4" x2="1196" y2="706.4" stroke="#000" stroke-width="2.55"/>
<text transform="translate(1187.5 711.65) scale(1 1.04)" font-size="17.5" text-anchor="end">0</text>
<line x1="1189.2" y1="628.67" x2="1196" y2="628.67" stroke="#000" stroke-width="2.55"/>
<text transform="translate(1187.5 633.92) scale(1 1.04)" font-size="17.5" text-anchor="end">50</text>
<line x1="1189.2" y1="550.93" x2="1196" y2="550.93" stroke="#000" stroke-width="2.55"/>
<text transform="translate(1187.5 556.18) scale(1 1.04)" font-size="17.5" text-anchor="end">100</text>
<line x1="1189.2" y1="473.2" x2="1196" y2="473.2" stroke="#000" stroke-width="2.55"/>
<text transform="translate(1187.5 478.45) scale(1 1.04)" font-size="17.5" text-anchor="end">150</text>
<line x1="1225.24" y1="706.4" x2="1225.24" y2="712.7" stroke="#000" stroke-width="2.55"/>
<text transform="translate(1228.54 726.7) rotate(-45) scale(1 1.04)" font-size="17.4" text-anchor="end">control</text>
<line x1="1283.74" y1="706.4" x2="1283.74" y2="712.7" stroke="#000" stroke-width="2.55"/>
<text transform="translate(1287.04 726.7) rotate(-45) scale(1 1.04)" font-size="17.4" text-anchor="end">10 <tspan class="mu" font-size="18.5">μ</tspan>M DPI</text>
<line x1="1342.24" y1="706.4" x2="1342.24" y2="712.7" stroke="#000" stroke-width="2.55"/>
<text transform="translate(1345.54 726.7) rotate(-45) scale(1 1.04)" font-size="17.4" text-anchor="end">1 <tspan class="mu" font-size="18.5">μ</tspan>M SFN</text>
<line x1="1400.75" y1="706.4" x2="1400.75" y2="712.7" stroke="#000" stroke-width="2.55"/>
<text transform="translate(1404.05 726.7) rotate(-45) scale(1 1.04)" font-size="17.4" text-anchor="end">50 <tspan class="mu" font-size="18.5">μ</tspan>M Trolox</text>
<line x1="1459.25" y1="706.4" x2="1459.25" y2="712.7" stroke="#000" stroke-width="2.55"/>
<text transform="translate(1462.55 726.7) rotate(-45) scale(1 1.04)" font-size="17.4" text-anchor="end">0.2 <tspan class="mu" font-size="18.5">μ</tspan>M MitoQ</text>
<line x1="1517.75" y1="706.4" x2="1517.75" y2="712.7" stroke="#000" stroke-width="2.55"/>
<text transform="translate(1521.05 726.7) rotate(-45) scale(1 1.04)" font-size="17.4" text-anchor="end">1 <tspan class="mu" font-size="18.5">μ</tspan>M cyclosporin</text>
<text transform="translate(1148.5 589.5) rotate(-90) scale(1 1.04)" font-size="17" text-anchor="middle" letter-spacing="0.17">LTs, ng/10<tspan font-size="13" dy="-8.6">7</tspan><tspan dy="8.6"> PMNLs</tspan></text>
<text class="n s" x="1260.63" y="564.76" font-size="16.8" letter-spacing="1.95">**</text>
<text class="n s" x="1291.73" y="484.56" font-size="16.8" letter-spacing="1.95">**</text>
<text class="n s" x="1380.83" y="689.76" font-size="16.8" letter-spacing="1.95">*</text>
<text class="n s" x="1409.23" y="687.96" font-size="16.8" letter-spacing="1.95">**</text>
<text class="n s" x="1439.33" y="696.36" font-size="16.8" letter-spacing="1.95">*</text>
<text class="n s" x="1467.53" y="695.16" font-size="16.8" letter-spacing="1.95">**</text>
<rect x="1561.6" y="471.1" width="28" height="13.6" rx="2.2" fill="#000000"/>
<text transform="translate(1602.9 483.8) scale(1 1.04)" font-size="17.6" letter-spacing="0.3">LTB4</text>
<rect x="1561.6" y="499.5" width="28" height="15.6" rx="2.2" fill="#9e9ea1"/>
<text transform="translate(1602.9 513.5) scale(1 1.04)" font-size="17.6" letter-spacing="0.3"><tspan class="gn" style="stroke-width:0.4px" font-size="16.4">ω</tspan><tspan dx="0">-LTB4</tspan></text>
<rect x="1561.6" y="529.1" width="28" height="15.2" rx="2.2" fill="#606060"/>
<text transform="translate(1602.9 542.3) scale(1 1.04)" font-size="17.6" letter-spacing="0.3"><tspan class="gn" font-size="18.6">Σ</tspan><tspan dx="1.2">LTs</tspan></text>
</g>
</svg>
</body>
</html>
